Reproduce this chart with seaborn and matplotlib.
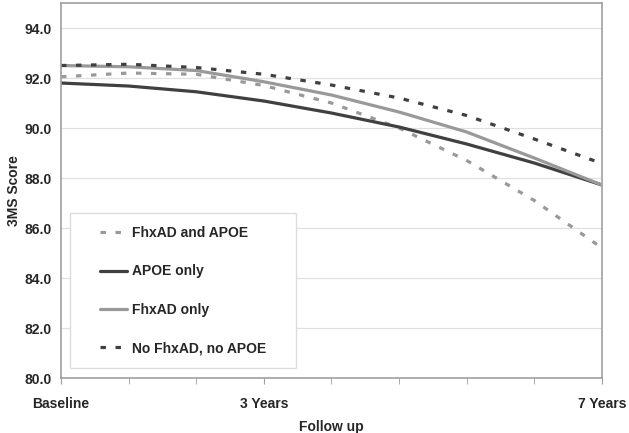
import pandas as pd
import matplotlib.pyplot as plt
import seaborn as sns
from matplotlib.patches import Rectangle

# follow-up points (category index), labels only on some
visits = [0, 1, 2, 3, 4, 5, 6, 7, 8]
tick_labels = {0: 'Baseline', 3: '3 Years', 8: '7 Years'}

fhxad_apoe = [92.05, 92.2, 92.15, 91.7, 91.0, 90.0, 88.7, 87.1, 85.2]
apoe_only = [91.8, 91.68, 91.45, 91.08, 90.6, 90.04, 89.36, 88.6, 87.72]
fhxad_only = [92.5, 92.45, 92.3, 91.85, 91.32, 90.64, 89.84, 88.8, 87.72]
neither = [92.5, 92.55, 92.42, 92.15, 91.72, 91.2, 90.5, 89.56, 88.58]

groups = ['FhxAD and APOE', 'APOE only', 'FhxAD only', 'No FhxAD, no APOE']
series = [fhxad_apoe, apoe_only, fhxad_only, neither]

df = pd.concat([pd.DataFrame({'Visit': visits, 'Score': s, 'Group': g})
                for g, s in zip(groups, series)])

sns.set_style('white')
plt.rcParams['font.family'] = ['Liberation Sans', 'DejaVu Sans']
plt.rcParams['font.weight'] = 'bold'

fig = plt.figure(figsize=(6.29, 4.33), dpi=100)
ax = fig.add_axes([0.097, 0.127, 0.86, 0.866])

palette = {'FhxAD and APOE': '#999999', 'APOE only': '#404040',
           'FhxAD only': '#999999', 'No FhxAD, no APOE': '#404040'}
dashes = {'FhxAD and APOE': (1.7, 3.0), 'APOE only': '',
          'FhxAD only': '', 'No FhxAD, no APOE': (1.7, 3.0)}

sns.lineplot(data=df, x='Visit', y='Score', hue='Group', style='Group',
             palette=palette, dashes=dashes, hue_order=groups, style_order=groups,
             linewidth=2.3, ax=ax, legend=True)

ax.set_xlim(0, 8)
ax.set_ylim(80, 95)
ax.set_yticks(range(80, 95, 2))
ax.set_yticklabels([f'{v:.1f}' for v in range(80, 95, 2)], fontsize=10, fontweight='bold')
ax.set_xticks(visits, minor=True)
ax.set_xticks(list(tick_labels.keys()))
ax.set_xticklabels(list(tick_labels.values()), fontsize=10, fontweight='bold')
ax.tick_params(axis='x', which='both', length=4, color='#a0a0a0', direction='out',
               pad=10, bottom=True)
ax.tick_params(axis='y', length=0, pad=7)
ax.yaxis.grid(True, color='#e0e0e0', linewidth=0.9)
ax.set_axisbelow(True)

for side in ['left', 'bottom', 'right', 'top']:
    ax.spines[side].set_color('#a0a0a0')
    ax.spines[side].set_linewidth(1.2)

ax.set_xlabel('Follow up', fontsize=10, fontweight='bold', labelpad=6)
ax.set_ylabel('3MS Score', fontsize=10, fontweight='bold', labelpad=2)

# legend box drawn separately to get wide side padding
ax.add_patch(Rectangle((0.0166, 0.027), 0.4177, 0.413, transform=ax.transAxes,
                       facecolor='white', edgecolor='#dddddd', linewidth=1.0,
                       zorder=3))
leg = ax.legend(loc='center', bbox_to_anchor=(0.2255, 0.233), frameon=False,
                fontsize=10, labelspacing=1.75, handlelength=2.0,
                handletextpad=0.35, borderaxespad=0)
leg.set_zorder(4)
for t in leg.get_texts():
    t.set_fontweight('bold')

fig.savefig('out.png', dpi=100)
